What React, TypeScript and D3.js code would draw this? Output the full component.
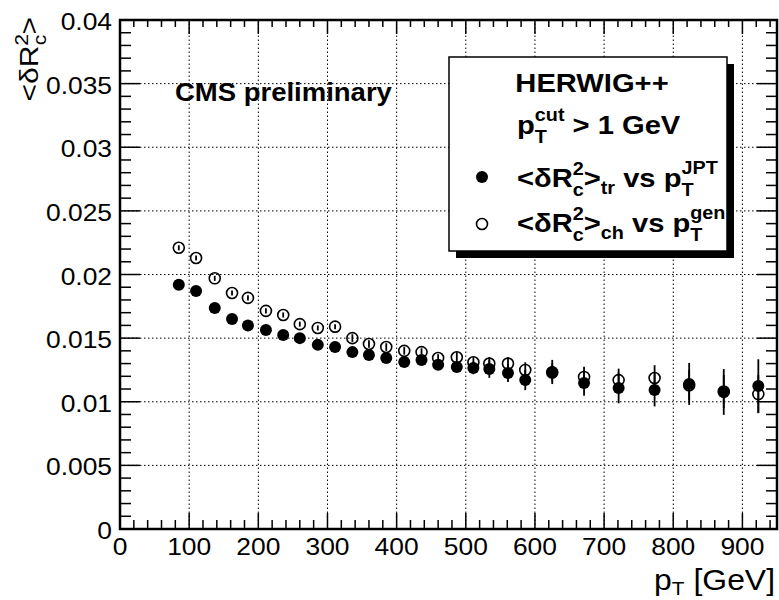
import * as d3 from 'd3'

// jet pT bin centres [GeV]
const ptBins = [85, 110, 137, 162, 185, 211, 236, 260, 286, 311, 336, 360, 385, 411, 436, 460, 487, 511, 534, 561, 586, 625, 671, 721, 773, 823, 873, 923]

// <dR_c^2>_tr vs pT^JPT (filled)
const drTr = [0.0192, 0.0187, 0.01737, 0.0165, 0.016, 0.01564, 0.01525, 0.015, 0.01447, 0.0143, 0.0139, 0.01368, 0.01344, 0.01313, 0.01329, 0.0129, 0.01274, 0.01266, 0.01258, 0.01226, 0.01171, 0.01234, 0.01148, 0.01108, 0.01093, 0.0114, 0.01077, 0.01124]
const drTrErr = [0.0002, 0.0002, 0.0002, 0.0002, 0.0002, 0.0002, 0.0002, 0.0002, 0.0002, 0.0003, 0.0003, 0.0003, 0.0003, 0.0003, 0.0003, 0.0004, 0.0004, 0.0005, 0.0007, 0.0007, 0.0008, 0.00095, 0.001, 0.0012, 0.0013, 0.00165, 0.0018, 0.0021]

// <dR_c^2>_ch vs pT^gen (open)
const drCh = [0.0221, 0.0213, 0.0197, 0.01855, 0.01816, 0.01714, 0.01682, 0.0161, 0.0158, 0.0159, 0.015, 0.01454, 0.0143, 0.014, 0.0139, 0.01344, 0.0135, 0.0131, 0.013, 0.013, 0.0125, 0.0123, 0.01195, 0.0117, 0.01187, 0.0113, 0.0108, 0.0106]
const drChErr = [0.0002, 0.0002, 0.0002, 0.0002, 0.0002, 0.0002, 0.0002, 0.0002, 0.0002, 0.0002, 0.0003, 0.0003, 0.0003, 0.0003, 0.0003, 0.0003, 0.0004, 0.0004, 0.0005, 0.0005, 0.0006, 0.0007, 0.0008, 0.0009, 0.001, 0.0012, 0.0013, 0.0015]

const xTicks = [0, 100, 200, 300, 400, 500, 600, 700, 800, 900]
const yTicks = [0, 0.005, 0.01, 0.015, 0.02, 0.025, 0.03, 0.035, 0.04]

const W = 779
const H = 600
const FONT = '"Liberation Sans", Arial, Helvetica, sans-serif'
const SX = 1.1 // the original canvas is a bit stretched horizontally

function T({ x, y, anchor = 'start', size = 24, bold = false, children }: any) {
  return (
    <g transform={`translate(${x},${y}) scale(${SX},1)`}>
      <text textAnchor={anchor} fontSize={size} fontWeight={bold ? 'bold' : 'normal'} fontFamily={FONT} fill="#000">
        {children}
      </text>
    </g>
  )
}

export default function App() {
  const x = d3.scaleLinear().domain([0, 950]).range([120, 777])
  const y = d3.scaleLinear().domain([0, 0.04]).range([529, 20])
  const [x0, x1] = x.range()
  const [y0, y1] = y.range()

  const xMinor = d3.range(0, 951, 20).filter((v) => v % 100 !== 0)
  const yMinor = d3.range(0, 41).map((v) => v / 1000).filter((_, i) => i % 5 !== 0)

  const fmtY = (v: number) => String(+v.toFixed(3))
  const sub = 18

  return (
    <svg width={W} height={H} style={{ position: 'absolute', left: 0, top: 0, background: '#fff' }}>
      <rect width={W} height={H} fill="#fff" />

      {/* grid */}
      <g stroke="#000" strokeWidth={1} strokeDasharray="1.5,2.5">
        {xTicks.slice(1).map((v) => (
          <line key={'gx' + v} x1={x(v)} x2={x(v)} y1={y0} y2={y1} />
        ))}
        {yTicks.slice(1, -1).map((v) => (
          <line key={'gy' + v} x1={x0} x2={x1} y1={y(v)} y2={y(v)} />
        ))}
      </g>

      {/* ticks */}
      <g stroke="#000" strokeWidth={1.5}>
        {xTicks.map((v) => (
          <g key={'xt' + v}>
            <line x1={x(v)} x2={x(v)} y1={y0} y2={y0 - 16} />
            <line x1={x(v)} x2={x(v)} y1={y1} y2={y1 + 14} />
          </g>
        ))}
        {xMinor.map((v) => (
          <g key={'xm' + v}>
            <line x1={x(v)} x2={x(v)} y1={y0} y2={y0 - 9} />
            <line x1={x(v)} x2={x(v)} y1={y1} y2={y1 + 7} />
          </g>
        ))}
        {yTicks.map((v) => (
          <g key={'yt' + v}>
            <line x1={x0} x2={x0 + 20} y1={y(v)} y2={y(v)} />
            <line x1={x1} x2={x1 - 20} y1={y(v)} y2={y(v)} />
          </g>
        ))}
        {yMinor.map((v) => (
          <g key={'ym' + v}>
            <line x1={x0} x2={x0 + 11} y1={y(v)} y2={y(v)} />
            <line x1={x1} x2={x1 - 11} y1={y(v)} y2={y(v)} />
          </g>
        ))}
      </g>

      {/* frame */}
      <rect x={x0} y={y1} width={x1 - x0} height={y0 - y1} fill="none" stroke="#000" strokeWidth={2.5} />

      {/* tick labels */}
      {yTicks.map((v) => (
        <T key={'yl' + v} x={112} y={y(v) + 10} anchor="end" size={24}>
          {fmtY(v)}
        </T>
      ))}
      {xTicks.map((v) => (
        <T key={'xl' + v} x={x(v)} y={555} anchor="middle" size={24}>
          {v}
        </T>
      ))}

      {/* axis titles */}
      <T x={775} y={590} anchor="end" size={29}>
        p<tspan dy={5} fontSize={19}>T</tspan>
        <tspan dy={-5}> [GeV]</tspan>
      </T>
      <g transform="translate(38,17) rotate(-90) scale(1.25,1.05)">
        <text textAnchor="end" fontSize={24} fontFamily={FONT}>
          &lt;δR<tspan dy={-10} fontSize={17}>2</tspan>
          <tspan dx={-9} dy={18} fontSize={17}>c</tspan>
          <tspan dy={-8}>&gt;</tspan>
        </text>
      </g>

      {/* data: open */}
      <g stroke="#000" strokeWidth={1.8}>
        {ptBins.map((p, i) => (
          <line key={'ec' + i} x1={x(p)} x2={x(p)} y1={y(drCh[i] - drChErr[i])} y2={y(drCh[i] + drChErr[i])} />
        ))}
        {ptBins.map((p, i) => (
          <circle key={'pc' + i} cx={x(p)} cy={y(drCh[i])} r={5.5} fill="none" strokeWidth={1.6} />
        ))}
      </g>
      {/* data: filled */}
      <g stroke="#000" strokeWidth={1.8}>
        {ptBins.map((p, i) => (
          <line key={'et' + i} x1={x(p)} x2={x(p)} y1={y(drTr[i] - drTrErr[i])} y2={y(drTr[i] + drTrErr[i])} />
        ))}
      </g>
      {ptBins.map((p, i) => (
        <circle key={'pt' + i} cx={x(p)} cy={y(drTr[i])} r={6} fill="#000" />
      ))}

      {/* CMS label */}
      <T x={175} y={101} size={25} bold>
        CMS preliminary
      </T>

      {/* legend */}
      <rect x={456} y={64} width={278} height={194} fill="#000" />
      <rect x={449} y={57} width={278} height={194} fill="#fff" stroke="#000" strokeWidth={1.5} />
      <T x={592} y={92} anchor="middle" size={26.5} bold>
        HERWIG++
      </T>
      <T x={517} y={134} size={26.5} bold>
        p<tspan dy={-13} fontSize={sub}>cut</tspan>
        <tspan dx={-27} dy={22} fontSize={sub}>T</tspan>
        <tspan dx={16} dy={-9}> &gt; 1 GeV</tspan>
      </T>
      <circle cx={482} cy={177} r={6} fill="#000" />
      <T x={517} y={187} size={26.5} bold>
        &lt;δR<tspan dy={-12} fontSize={sub}>2</tspan>
        <tspan dx={-10} dy={21} fontSize={sub}>c</tspan>
        <tspan dy={-9}>&gt;</tspan>
        <tspan dy={7} fontSize={sub}>tr</tspan>
        <tspan dy={-7}> vs p</tspan>
        <tspan dy={-13} fontSize={sub}>JPT</tspan>
        <tspan dx={-33} dy={22} fontSize={sub}>T</tspan>
      </T>
      <circle cx={482} cy={224} r={5.5} fill="none" stroke="#000" strokeWidth={1.6} />
      <T x={517} y={232} size={26.5} bold>
        &lt;δR<tspan dy={-12} fontSize={sub}>2</tspan>
        <tspan dx={-10} dy={21} fontSize={sub}>c</tspan>
        <tspan dy={-9}>&gt;</tspan>
        <tspan dy={7} fontSize={sub}>ch</tspan>
        <tspan dy={-7}> vs p</tspan>
        <tspan dy={-13} fontSize={sub}>gen</tspan>
        <tspan dx={-32} dy={22} fontSize={sub}>T</tspan>
      </T>
    </svg>
  )
}
